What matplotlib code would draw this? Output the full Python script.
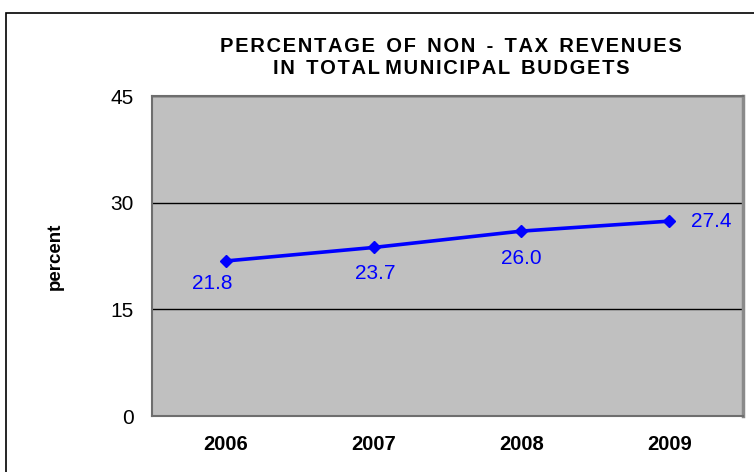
import matplotlib.pyplot as plt
from matplotlib.patches import Rectangle

years = ['2006', '2007', '2008', '2009']
shares = [21.8, 23.7, 26.0, 27.4]
# label offsets in points (dx, dy) from each marker to the label centre
label_offsets = [(-10, -16), (1, -19), (0, -20), (30, 0)]
yticks = [0, 15, 30, 45]
title_lines = [['PERCENTAGE', 'OF', 'NON', '-', 'TAX', 'REVENUES'],
               ['IN', 'TOTAL MUNICIPAL', 'BUDGETS']]

plt.rcParams['font.family'] = ['Liberation Sans', 'DejaVu Sans']


def spaced(words):
    # letter-spaced heading text, hair spaces between the glyphs
    out = []
    for w in words:
        out.append(' '.join('\u200a'.join(part) for part in w.split(' ')))
    return '  '.join(out)


fig = plt.figure(figsize=(7.54, 4.72), dpi=100)
ax = fig.add_axes([152 / 754, 1 - 416 / 472, 591 / 754, 320 / 472])

# outer chart frame
fig.patches.append(Rectangle((6 / 754, -0.01), 1.0, 1 - 13 / 472 + 0.01,
                             transform=fig.transFigure, fill=False,
                             edgecolor='black', linewidth=1.2))

x = list(range(len(years)))
ax.set_facecolor('#c0c0c0')
ax.plot(x, shares, color='#0000ff', linewidth=2.6, marker='D', markersize=6,
        zorder=3)
for i, v in enumerate(shares):
    dx, dy = label_offsets[i]
    ax.annotate(f'{v:.1f}', (i, v), xytext=(dx, dy), textcoords='offset points',
                ha='center', va='center', color='#0000ff', fontsize=15)

ax.set_xlim(-0.5, 3.5)
ax.set_ylim(0, 45)
ax.set_yticks(yticks)
ax.set_xticks(x)
ax.set_xticklabels(years, fontweight='bold', fontsize=14.5)
ax.tick_params(axis='y', labelsize=15, length=0, pad=13)
ax.tick_params(axis='x', length=0, pad=14)
ax.yaxis.grid(True, color='black', linewidth=1)
ax.set_axisbelow(True)
for side in ['left', 'bottom', 'top']:
    ax.spines[side].set_color('#6e6e6e')
    ax.spines[side].set_linewidth(1.5)
ax.spines['right'].set_color('#8a8a8a')
ax.spines['right'].set_linewidth(2.5)

ax.set_ylabel('percent', fontweight='bold', fontsize=13.5)
ax.yaxis.set_label_coords(-0.149, 0.5)

fig.text(451 / 754, 1 - 46 / 472, spaced(title_lines[0]),
         ha='center', va='center', fontweight='bold', fontsize=14.5)
fig.text(451 / 754, 1 - 69 / 472, spaced(title_lines[1]),
         ha='center', va='center', fontweight='bold', fontsize=14.5)

fig.savefig('out.png', dpi=100)
